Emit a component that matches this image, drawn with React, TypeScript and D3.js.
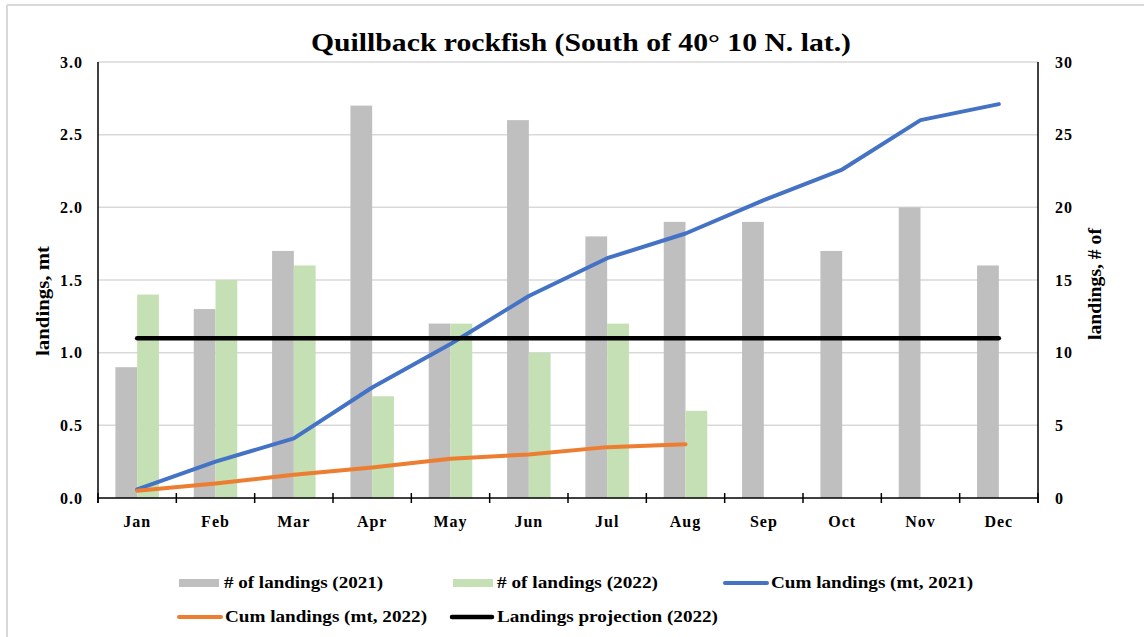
import React from 'react';
import * as d3 from 'd3';

// values
const months = ['Jan', 'Feb', 'Mar', 'Apr', 'May', 'Jun', 'Jul', 'Aug', 'Sep', 'Oct', 'Nov', 'Dec'];
const landings2021 = [9, 13, 17, 27, 12, 26, 18, 19, 19, 17, 20, 16];
const landings2022 = [14, 15, 16, 7, 12, 10, 12, 6];
const cum2021 = [0.06, 0.25, 0.41, 0.76, 1.06, 1.39, 1.65, 1.82, 2.05, 2.26, 2.6, 2.71];
const cum2022 = [0.05, 0.1, 0.16, 0.21, 0.27, 0.3, 0.35, 0.37];
const projection2022 = [1.1, 1.1, 1.1, 1.1, 1.1, 1.1, 1.1, 1.1, 1.1, 1.1, 1.1, 1.1];
const leftTicks = [0, 0.5, 1, 1.5, 2, 2.5, 3];
const rightTicks = [0, 5, 10, 15, 20, 25, 30];

const W = 1144;
const H = 637;
const FONT = "'Times New Roman', 'Liberation Serif', serif";

const GRAY = '#bfbfbf';
const GREEN = '#c5e0b4';
const BLUE = '#4472c4';
const ORANGE = '#ed7d31';

export default function App() {
  const left = 98, right = 1038, top = 62, bottom = 498;

  const x = d3.scaleBand<string>().domain(months).range([left, right]);
  const sub = d3.scaleBand<string>().domain(['2021', '2022']).range([0, x.bandwidth()]).paddingOuter(0.8);
  const yL = d3.scaleLinear().domain([0, 3]).range([bottom, top]);
  const yR = d3.scaleLinear().domain([0, 30]).range([bottom, top]);
  const cx = (m: string) => (x(m) as number) + x.bandwidth() / 2;

  const line = d3.line<number>()
    .x((_, i) => cx(months[i]))
    .y(v => yL(v));

  const bounds = d3.range(months.length + 1).map(i => left + i * x.step());

  const bold = { fontFamily: FONT, fontWeight: 'bold', fill: '#000' } as const;
  const legendText = { ...bold, fontSize: 16 } as const;
  const tickText = { ...bold, fontSize: 16, letterSpacing: 1 } as const;

  return (
    <div style={{ position: 'fixed', left: 0, top: 0 }}>
      <svg width={W} height={H} style={{ display: 'block', background: '#fff' }}>
        {/* chart frame */}
        <line x1={7} y1={5} x2={W} y2={5} stroke="#d9d9d9" strokeWidth={2} />
        <line x1={7} y1={5} x2={7} y2={H} stroke="#d9d9d9" strokeWidth={2} />

        <text x={311} y={51} textLength={540} lengthAdjust="spacingAndGlyphs" style={{ ...bold, fontSize: 26 }}>
          Quillback rockfish (South of 40° 10 N. lat.)
        </text>

        {/* gridlines */}
        {leftTicks.slice(1).map(t => (
          <line key={t} x1={left} x2={right} y1={yL(t)} y2={yL(t)} stroke="#d9d9d9" strokeWidth={1.5} />
        ))}

        {/* bars on the right axis */}
        {landings2021.map((v, i) => (
          <rect key={'a' + i} x={(x(months[i]) as number) + (sub('2021') as number)} width={sub.bandwidth()}
            y={yR(v)} height={bottom - yR(v)} fill={GRAY} />
        ))}
        {landings2022.map((v, i) => (
          <rect key={'b' + i} x={(x(months[i]) as number) + (sub('2022') as number)} width={sub.bandwidth()}
            y={yR(v)} height={bottom - yR(v)} fill={GREEN} />
        ))}

        {/* lines on the left axis */}
        <path d={line(cum2021) || ''} fill="none" stroke={BLUE} strokeWidth={4} strokeLinejoin="round" strokeLinecap="round" />
        <path d={line(cum2022) || ''} fill="none" stroke={ORANGE} strokeWidth={4} strokeLinejoin="round" strokeLinecap="round" />
        <path d={line(projection2022) || ''} fill="none" stroke="#000" strokeWidth={4.5} strokeLinecap="round" />

        {/* axes */}
        <line x1={left} x2={left} y1={top} y2={bottom + 5} stroke="#000" strokeWidth={1.5} />
        <line x1={right} x2={right} y1={top} y2={bottom + 5} stroke="#000" strokeWidth={1.5} />
        <line x1={left} x2={right} y1={bottom} y2={bottom} stroke="#000" strokeWidth={1.5} />
        {bounds.map((b, i) => (
          <line key={i} x1={b} x2={b} y1={bottom - 5} y2={bottom + 5} stroke="#000" strokeWidth={1.5} />
        ))}

        {leftTicks.map(t => (
          <text key={t} x={83} y={yL(t)} dy="0.35em" textAnchor="end" style={tickText}>{d3.format('.1f')(t)}</text>
        ))}
        {rightTicks.map(t => (
          <text key={t} x={1055} y={yR(t)} dy="0.35em" textAnchor="start" style={tickText}>{t}</text>
        ))}
        {months.map(m => (
          <text key={m} x={cx(m)} y={527} textAnchor="middle" style={tickText}>{m}</text>
        ))}

        <text transform="translate(49,301) rotate(-90)" x={-55} textLength={110} lengthAdjust="spacingAndGlyphs"
          style={{ ...bold, fontSize: 18 }}>landings, mt</text>
        <text transform="translate(1101,284) rotate(-90)" x={-56} textLength={112} lengthAdjust="spacingAndGlyphs"
          style={{ ...bold, fontSize: 18 }}>landings, # of</text>

        {/* legend */}
        <rect x={179} y={579} width={40} height={8} fill={GRAY} />
        <text x={224} y={588} textLength={159} lengthAdjust="spacingAndGlyphs" style={legendText}># of landings (2021)</text>
        <rect x={453} y={579} width={40} height={8} fill={GREEN} />
        <text x={497} y={588} textLength={161} lengthAdjust="spacingAndGlyphs" style={legendText}># of landings (2022)</text>
        <line x1={725} x2={767} y1={583} y2={583} stroke={BLUE} strokeWidth={4} strokeLinecap="round" />
        <text x={771} y={588} textLength={202} lengthAdjust="spacingAndGlyphs" style={legendText}>Cum landings (mt, 2021)</text>
        <line x1={179} x2={221} y1={617} y2={617} stroke={ORANGE} strokeWidth={4} strokeLinecap="round" />
        <text x={225} y={622} textLength={202} lengthAdjust="spacingAndGlyphs" style={legendText}>Cum landings (mt, 2022)</text>
        <line x1={452} x2={492} y1={617} y2={617} stroke="#000" strokeWidth={4.5} strokeLinecap="round" />
        <text x={497} y={622} textLength={221} lengthAdjust="spacingAndGlyphs" style={legendText}>Landings projection (2022)</text>
      </svg>
    </div>
  );
}
